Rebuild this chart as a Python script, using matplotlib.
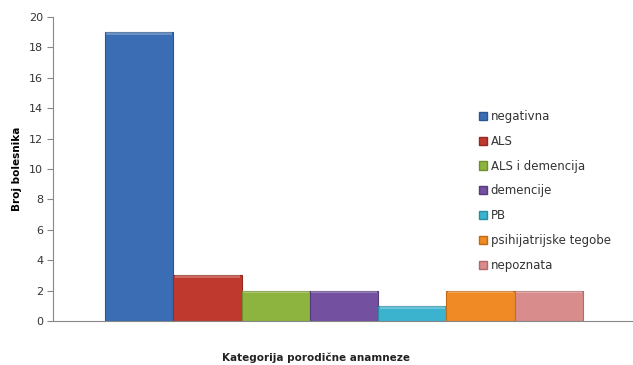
import numpy as np
import matplotlib.pyplot as plt
from matplotlib.patches import Patch

# podaci
categories = ["negativna", "ALS", "ALS i demencija", "demencije", "PB",
              "psihijatrijske tegobe", "nepoznata"]
values = [19, 3, 2, 2, 1, 2, 2]
colors = ["#3a6db3", "#c0392f", "#8db43e", "#7350a0", "#3bb3cf", "#f08a24", "#d98c8c"]
edges = ["#2c5590", "#962a22", "#6e8f2c", "#573b7c", "#2a8ca3", "#c06a15", "#b06a6a"]
y_ticks = [0, 2, 4, 6, 8, 10, 12, 14, 16, 18, 20]

fig = plt.figure(figsize=(6.33, 3.65), dpi=100)
ax = fig.add_axes([53 / 633, 1 - 321 / 365, 580 / 633, 304 / 365])

x = np.arange(len(categories))
for i, (v, c, e) in enumerate(zip(values, colors, edges)):
    ax.bar(x[i], v, width=1.0, color=c, edgecolor=e, linewidth=0.8)
    # svijetla traka na vrhu stupca
    ax.bar(x[i], 0.18, bottom=v - 0.18, width=0.96, color="white", alpha=0.25, linewidth=0)

ax.set_xlim(-1.26, 7.23)
ax.set_ylim(0, 20)
ax.set_yticks(y_ticks)
ax.set_xticks([])
ax.tick_params(axis="y", labelsize=8, length=4, color="#888888", labelcolor="#333333", pad=3)

for s in ["top", "right"]:
    ax.spines[s].set_visible(False)
ax.spines["left"].set_color("#888888")
ax.spines["bottom"].set_color("#888888")

ax.set_ylabel("Broj bolesnika", fontsize=7.5, fontweight="bold", labelpad=5)
fig.text(0.5, 1 - 358 / 365, "Kategorija porodične anamneze", fontsize=7.5,
         fontweight="bold", ha="center", va="center", color="#222222")

handles = [Patch(facecolor=c, edgecolor=e) for c, e in zip(colors, edges)]
fig.legend(handles, categories, loc="upper left", bbox_to_anchor=(479 / 633, 1 - 110 / 365),
           frameon=False, fontsize=8.5, handlelength=0.7, handleheight=0.7,
           handletextpad=0.3, labelspacing=1.0, borderaxespad=0, borderpad=0,
           labelcolor="#333333")

fig.savefig("out.png", dpi=100)
